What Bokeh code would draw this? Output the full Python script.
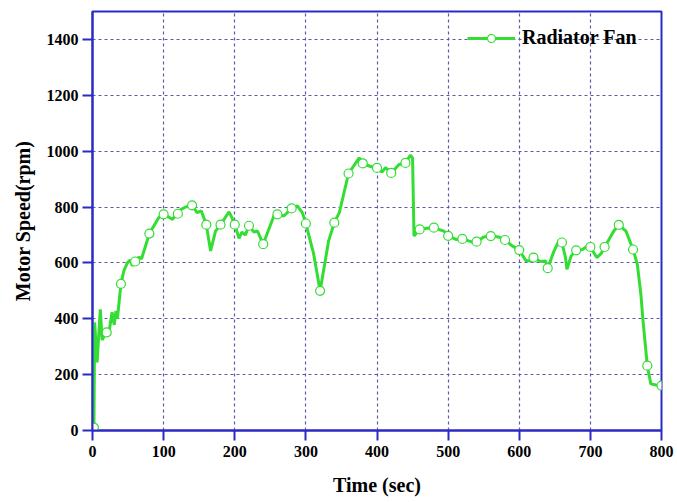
from bokeh.plotting import figure
from bokeh.models import (Range1d, FixedTicker, Legend, LegendItem,
                          ColumnDataSource)
from bokeh.embed import file_html
from bokeh.resources import INLINE

# Sampled points (every 20 s) drawn as open circles
marker_time = [2, 20, 40, 60, 80, 100, 120, 140, 160, 180, 200, 220, 240,
               260, 280, 300, 320, 340, 360, 380, 400, 420, 440, 460, 480,
               500, 520, 540, 560, 580, 600, 620, 640, 660, 680, 700, 720,
               740, 760, 780, 800]
marker_rpm = [10, 351, 525, 605, 705, 774, 776, 806, 737, 737, 737, 733, 667,
              774, 795, 741, 500, 744, 920, 956, 940, 922, 958, 720, 726,
              697, 686, 676, 696, 682, 646, 619, 581, 673, 645, 657, 657,
              736, 648, 232, 161]

# Detail points of the continuous speed trace between the samples
trace_time = [3, 6.5, 8.5, 11, 13.5, 17, 24, 27.5, 30.5, 33, 35, 44, 49, 53,
              56, 65, 69, 93, 107, 112, 124, 131, 147, 153, 166, 173, 192,
              196, 206, 210, 215, 227, 232, 246, 255, 269, 288, 295, 311,
              332, 347, 375, 390, 407, 412, 431, 447, 450, 452, 471, 494,
              511, 532, 550, 571, 590, 609, 616, 630, 637, 649, 656, 665,
              667, 673, 689, 696, 709, 715, 733, 750, 766, 771, 774, 785, 792]
trace_rpm = [387, 244, 330, 434, 324, 340, 365, 423, 378, 428, 400, 571, 600,
             610, 590, 620, 615, 762, 764, 756, 791, 800, 780, 786, 643, 714,
             783, 762, 688, 710, 700, 710, 714, 708, 768, 768, 804, 780, 631,
             679, 780, 976, 946, 925, 941, 952, 986, 976, 696, 724, 714,
             684, 676, 693, 693, 661, 609, 607, 605, 607, 643, 681, 619,
             577, 625, 648, 661, 619, 633, 714, 714, 595, 488, 393, 167, 163]

x_ticks = [0, 100, 200, 300, 400, 500, 600, 700, 800]
y_ticks = [0, 200, 400, 600, 800, 1000, 1200, 1400]

# Full trace = samples + detail points, ordered in time
pairs = sorted(zip(marker_time + trace_time, marker_rpm + trace_rpm))
line_src = ColumnDataSource(dict(t=[a for a, _ in pairs], rpm=[b for _, b in pairs]))
mark_src = ColumnDataSource(dict(t=marker_time, rpm=marker_rpm))

BLUE = "#2a2ac4"
GRID = "#5a5aa6"
GREEN = "#33dd33"
FONT = "Liberation Serif"

p = figure(width=677, height=502, output_backend="svg", toolbar_location=None,
           x_range=Range1d(0, 800), y_range=Range1d(0, 1500),
           min_border_left=92, min_border_right=16, min_border_top=11,
           min_border_bottom=72)
p.background_fill_color = "white"
p.border_fill_color = "white"
p.outline_line_color = BLUE
p.outline_line_width = 2

line_r = p.line("t", "rpm", source=line_src, line_color=GREEN, line_width=3)
dot_r = p.scatter("t", "rpm", source=mark_src, marker="circle", size=9,
                  fill_color="white", line_color=GREEN, line_width=1.2)

p.xaxis.ticker = FixedTicker(ticks=x_ticks)
p.yaxis.ticker = FixedTicker(ticks=y_ticks)
for ax in (p.xaxis, p.yaxis):
    ax.axis_line_color = BLUE
    ax.axis_line_width = 2
    ax.major_tick_line_color = BLUE
    ax.major_tick_line_width = 2
    ax.major_tick_out = 10
    ax.major_tick_in = 0
    ax.minor_tick_line_color = None
    ax.major_label_text_font = FONT
    ax.major_label_text_font_style = "bold"
    ax.major_label_text_font_size = "16px"
    ax.major_label_text_color = "black"
    ax.axis_label_text_font = FONT
    ax.axis_label_text_font_style = "bold"
    ax.axis_label_text_font_size = "20px"
    ax.axis_label_text_color = "black"

p.xaxis.axis_label = "Time (sec)"
p.yaxis.axis_label = "Motor Speed(rpm)"
p.xaxis.major_label_standoff = 5
p.yaxis.major_label_standoff = 4
p.xaxis.axis_label_standoff = 14
p.yaxis.axis_label_standoff = 10

for g in (p.xgrid, p.ygrid):
    g.grid_line_color = GRID
    g.grid_line_dash = "3 3"
    g.grid_line_width = 1.2

legend = Legend(items=[LegendItem(label="Radiator Fan", renderers=[line_r, dot_r])],
                location=(375, 381), padding=0, margin=0, spacing=0,
                glyph_width=48, glyph_height=20, label_height=20,
                label_standoff=7, border_line_color=None,
                background_fill_alpha=0,
                label_text_font=FONT, label_text_font_style="bold",
                label_text_font_size="20px", label_text_color="black")
p.add_layout(legend)

open("out.html", "w").write(file_html(p, INLINE))
